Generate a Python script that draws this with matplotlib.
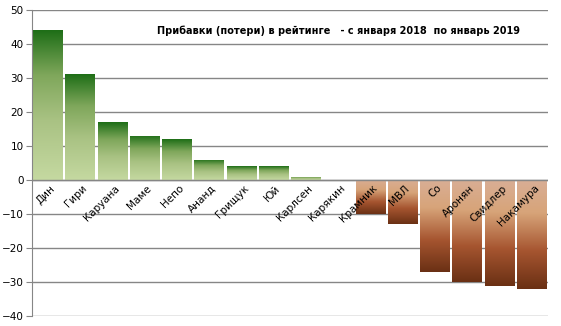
import numpy as np
import matplotlib.pyplot as plt
from matplotlib.colors import LinearSegmentedColormap

names = ['Дин', 'Гири', 'Каруана', 'Маме', 'Непо', 'Ананд', 'Грищук', 'Юй',
         'Карлсен', 'Карякин', 'Крамник', 'МВЛ', 'Со', 'Аронян', 'Свидлер', 'Накамура']
delta = [44, 31, 17, 13, 12, 6, 4, 4, 1, 0, -10, -13, -27, -30, -31, -32]

green = LinearSegmentedColormap.from_list('g', [(0, '#1e6e17'), (0.3, '#7fa75b'),
                                                (0.6, '#a9c283'), (1, '#c5d9a1')])
brown = LinearSegmentedColormap.from_list('b', [(0, '#d9ae95'), (0.3, '#d7a479'),
                                                (0.65, '#a65530'), (1, '#6a3014')])

fig = plt.figure(figsize=(5.61, 3.26), dpi=100)
ax = fig.add_axes([0.057, 0.03, 0.92, 0.94])

x = np.arange(len(names))
bars = ax.bar(x, delta, width=0.93, color='none', zorder=2)
grad = np.linspace(0, 1, 256).reshape(-1, 1)
for b, v in zip(bars, delta):
    if v == 0:
        continue
    x0 = b.get_x()
    x1 = x0 + b.get_width()
    # gradient runs from the top edge of the bar downwards
    if v > 0:
        im = ax.imshow(grad, cmap=green, aspect='auto', extent=(x0, x1, 0, v),
                       origin='upper', zorder=2)
    else:
        im = ax.imshow(grad, cmap=brown, aspect='auto', extent=(x0, x1, v, 0),
                       origin='upper', zorder=2)
    im.set_clip_path(b)

ax.set_xlim(-0.5, len(names) - 0.5)
ax.set_ylim(-40, 50)
ax.set_yticks(range(-40, 51, 10))
ax.grid(axis='y', color='#868686', linewidth=1, zorder=0)
ax.axhline(0, color='#868686', linewidth=1, zorder=3)
for s in ['top', 'right', 'bottom']:
    ax.spines[s].set_visible(False)
ax.spines['left'].set_color('#868686')
ax.tick_params(axis='y', length=4, color='#868686', labelsize=7.5, pad=2)
ax.tick_params(axis='x', length=0)
ax.set_xticks([])

for i, n in enumerate(names):
    ax.text(i + 0.05, -0.9, n, rotation=45, ha='right', va='top',
            rotation_mode='anchor', fontsize=7.5, zorder=4)

ax.text(0.946, 0.93, 'Прибавки (потери) в рейтинге   - с января 2018  по январь 2019',
        transform=ax.transAxes, ha='right', va='center', fontsize=7,
        fontweight='bold')

fig.savefig('out.png', dpi=100)
